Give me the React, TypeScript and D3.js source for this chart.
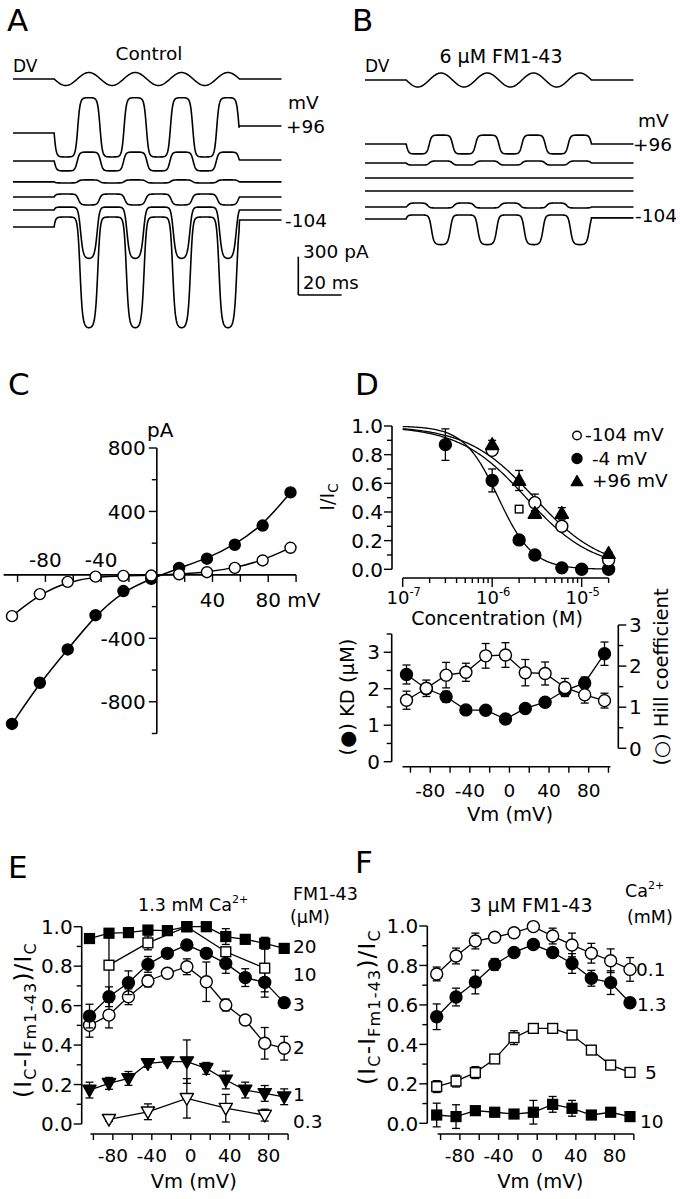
import React from 'react';
import * as d3 from 'd3';

const FONT = "'DejaVu Sans', 'Liberation Sans', Arial, sans-serif";

// ===== Panels A & B: stimulus (DV) and current traces =====
const traceDurMs = 124;
const stimOnsetMs = 19;
const stimPeriodMs = 21.4;
const stimCycles = 4;
// levels in pA: display baseline, and closed / open / post-stimulus level relative to baseline
const ctrlBase = [-337, -556, -720, -838, -940, -1073];
const ctrlClosed = [-188, -78, -8, 23, 23, 78];
const ctrlOpen = [278, 70, 16, -63, -392, -806];
const ctrlPost = [55, 8, 0, 0, 0, 55];
const fmBase = [-423, -572, -689, -791, -916, -1010];
const fmClosed = [-78, -16, 0, 0, 31, 31];
const fmOpen = [70, 16, 0, 0, -8, -204];
const fmPost = [0, 0, 0, 0, 0, 8];
const scaleBarPA = 300;
const scaleBarMs = 20;

// ===== Panel C: I-V =====
const ivVm = [-104, -84, -64, -44, -24, -4, 16, 36, 56, 76, 96];
const ivControl = [-940, -680, -470, -254, -102, -25, 44, 102, 190, 311, 520];
const ivFM = [-260, -121, -44, -11, -6, -4, 4, 17, 44, 91, 171];
const ivXTicks = [-100, -80, -60, -40, -20, 20, 40, 60, 80, 100];
const ivXLabelsAbove = [-80, -40];
const ivXLabelsBelow = [40];
const ivYMajor = [800, 400, 0, -400, -800];
const ivYMinor = [600, 200, -200, -600, -1000];

// ===== Panel D top: dose-response =====
const doseConc = [3e-7, 1e-6, 2e-6, 3e-6, 6e-6, 1e-5, 2e-5];
const doseM104 = [NaN, 0.83, NaN, 0.465, 0.30, NaN, 0.065];
const doseM104Err = [0, 0.03, 0, 0.06, 0.02, 0, 0.02];
const doseM4 = [0.87, 0.62, 0.205, 0.10, 0.01, 0.0, 0.0];
const doseM4Err = [0.11, 0.08, 0.025, 0.01, 0.01, 0, 0];
const doseP96 = [NaN, 0.87, 0.62, 0.39, 0.39, NaN, 0.11];
const doseP96Err = [0, 0.03, 0.07, 0.02, 0.04, 0, 0.01];
const doseExtraConc = [2e-6];
const doseExtraVal = [0.42];
const fitLabels = ['-104 mV', ' -4 mV', '+96 mV'];
const fitKD = [2.39e-6, 1.17e-6, 2.96e-6];
const fitHill = [1.17, 2.27, 1.16];
const doseYMajor = [0, 0.2, 0.4, 0.6, 0.8, 1.0];
const doseYMinor = [0.1, 0.3, 0.5, 0.7, 0.9];
const doseDecades = [-7, -6, -5];

// ===== Panel D bottom: KD and Hill vs Vm =====
const kdVal = [2.39, 2.0, 1.78, 1.42, 1.41, 1.17, 1.46, 1.63, 1.95, 2.16, 2.96];
const kdErr = [0.26, 0.12, 0.15, 0.05, 0.05, 0.05, 0.08, 0.08, 0.1, 0.16, 0.32];
const hillVal = [1.17, 1.46, 1.78, 1.85, 2.25, 2.27, 1.84, 1.82, 1.48, 1.30, 1.16];
const hillErr = [0.22, 0.2, 0.31, 0.22, 0.3, 0.3, 0.32, 0.28, 0.22, 0.2, 0.18];
const vmTicks = [-100, -80, -60, -40, -20, 0, 20, 40, 60, 80, 100];
const vmLabels = [-80, -40, 0, 40, 80];

// ===== Panel E: FM1-43 concentrations (µM) =====
const eLabels = ['20', '10', '3', '2', '1', '0.3'];
const e20 = [0.94, 0.967, 0.97, 0.983, 0.98, 1.0, 1.0, 0.95, 0.936, 0.916, 0.89];
const e20Err = [0, 0, 0, 0.01, 0, 0, 0, 0.04, 0.01, 0.03, 0.01];
const e10 = [NaN, 0.805, NaN, 0.918, NaN, 1.0, NaN, 0.873, NaN, 0.79, NaN];
const e10Err = [0, 0.17, 0, 0.035, 0, 0, 0, 0.02, 0, 0.12, 0];
const e3 = [0.547, 0.645, 0.716, 0.809, 0.865, 0.907, 0.865, 0.814, 0.742, 0.718, 0.615];
const e3Err = [0.06, 0.05, 0.06, 0.04, 0.01, 0.01, 0.01, 0.05, 0.045, 0.075, 0.02];
const e2 = [0.50, 0.552, 0.645, 0.725, 0.764, 0.797, 0.721, 0.603, 0.527, 0.409, 0.384];
const e2Err = [0.06, 0.065, 0.04, 0.03, 0.01, 0.04, 0.1, 0.03, 0.015, 0.08, 0.06];
const e1 = [0.172, 0.206, 0.231, 0.307, 0.316, 0.316, 0.282, 0.223, 0.172, 0.155, 0.138];
const e1Err = [0.04, 0.03, 0.035, 0.02, 0.01, 0.11, 0.03, 0.045, 0.04, 0.04, 0.04];
const e03 = [NaN, 0.024, NaN, 0.062, NaN, 0.13, NaN, 0.08, NaN, 0.045, NaN];
const e03Err = [0, 0.01, 0, 0.04, 0, 0.1, 0, 0.07, 0, 0.03, 0];

// ===== Panel F: Ca2+ concentrations (mM) =====
const fLabels = ['0.1', '1.3', '5', '10'];
const f01 = [0.757, 0.848, 0.924, 0.943, 0.966, 0.997, 0.949, 0.904, 0.862, 0.824, 0.78];
const f01Err = [0.035, 0.04, 0.04, 0.015, 0.02, 0, 0.04, 0.06, 0.05, 0.06, 0.06];
const f13 = [0.54, 0.64, 0.716, 0.805, 0.866, 0.906, 0.866, 0.81, 0.735, 0.713, 0.611];
const f13Err = [0.065, 0.045, 0.06, 0.03, 0.01, 0.01, 0.01, 0.05, 0.04, 0.06, 0.015];
const f5 = [0.186, 0.214, 0.257, 0.326, 0.434, 0.481, 0.481, 0.447, 0.371, 0.295, 0.258];
const f5Err = [0.03, 0.03, 0.03, 0.01, 0.035, 0.01, 0.02, 0.01, 0.01, 0.01, 0.01];
const f10 = [0.042, 0.034, 0.064, 0.056, 0.047, 0.056, 0.096, 0.076, 0.042, 0.056, 0.034];
const f10Err = [0.06, 0.06, 0.02, 0.01, 0.01, 0.06, 0.04, 0.04, 0.01, 0.01, 0.01];
const ratioYMajor = [0, 0.2, 0.4, 0.6, 0.8, 1.0];
const ratioYMinor = [0.1, 0.3, 0.5, 0.7, 0.9];

// ---------------- helpers ----------------
const stimEnd = stimOnsetMs + stimCycles * stimPeriodMs;
function stim(t: number) {
  if (t < stimOnsetMs || t > stimEnd) return 0;
  return -Math.sin((2 * Math.PI * (t - stimOnsetMs)) / stimPeriodMs);
}

function tracePath(tS: any, yS: any, base: number, closed: number, open: number, post: number, k = 0.16) {
  let p0 = open - closed !== 0 ? -closed / (open - closed) : 0.5;
  p0 = Math.min(0.95, Math.max(0.05, p0));
  const s0 = k * Math.log(1 / p0 - 1);
  const pts: [number, number][] = [];
  for (let t = 0; t <= traceDurMs + 1e-6; t += 0.2) {
    let v: number;
    if (t < stimOnsetMs) v = base;
    else if (t > stimEnd) v = base + post;
    else {
      const s = stim(t);
      const P = 1 / (1 + Math.exp(-(s - s0) / k));
      v = base + closed + (open - closed) * P;
    }
    pts.push([tS(t), yS(v)]);
  }
  return d3.line()(pts) as string;
}

function dvPath(tS: any, y0: number, amp: number) {
  const pts: [number, number][] = [];
  for (let t = 0; t <= traceDurMs + 1e-6; t += 0.2) pts.push([tS(t), y0 - amp * stim(t)]);
  return d3.line()(pts) as string;
}

const defaultR: any = { circle: 6, square: 5.6, triUp: 6, triDown: 6 };

function Mark({ shape, x, y, filled, r }: any) {
  const rr = r ?? defaultR[shape];
  const fill = filled ? '#000' : '#fff';
  const sw = 1.4;
  if (shape === 'circle') return <circle cx={x} cy={y} r={rr} fill={fill} stroke="#000" strokeWidth={sw} />;
  if (shape === 'square')
    return <rect x={x - rr + 0.7} y={y - rr + 0.7} width={2 * rr - 1.4} height={2 * rr - 1.4} fill={fill} stroke="#000" strokeWidth={sw} />;
  if (shape === 'triUp')
    return <path d={`M${x},${y - rr * 1.15}L${x + rr * 1.1},${y + rr * 0.8}L${x - rr * 1.1},${y + rr * 0.8}Z`} fill={fill} stroke="#000" strokeWidth={sw} strokeLinejoin="round" />;
  return <path d={`M${x},${y + rr * 1.15}L${x + rr * 1.1},${y - rr * 0.8}L${x - rr * 1.1},${y - rr * 0.8}Z`} fill={fill} stroke="#000" strokeWidth={sw} strokeLinejoin="round" />;
}

function ErrBar({ x, y1, y2, cap = 4 }: any) {
  return (
    <g stroke="#000" strokeWidth={1.3}>
      <line x1={x} x2={x} y1={y1} y2={y2} />
      <line x1={x - cap} x2={x + cap} y1={y1} y2={y1} />
      <line x1={x - cap} x2={x + cap} y1={y2} y2={y2} />
    </g>
  );
}

function Series({ xs, vals, errs, xS, yS, shape, filled, line = true }: any) {
  const pts = xs.map((x: number, i: number) => ({ x, v: vals[i], e: errs ? errs[i] : 0 })).filter((d: any) => !isNaN(d.v));
  const path = d3.line<any>().x((d) => xS(d.x)).y((d) => yS(d.v))(pts) as string;
  return (
    <g>
      {line && <path d={path} fill="none" stroke="#000" strokeWidth={1.3} />}
      {pts.filter((d: any) => d.e > 0).map((d: any, i: number) => (
        <ErrBar key={'e' + i} x={xS(d.x)} y1={yS(d.v + d.e)} y2={yS(d.v - d.e)} />
      ))}
      {pts.map((d: any, i: number) => (
        <Mark key={'m' + i} shape={shape} x={xS(d.x)} y={yS(d.v)} filled={filled} />
      ))}
    </g>
  );
}

const fmt1 = (v: number) => v.toFixed(1);
const YT = 20; // y tick label size
const XT = 18.5; // x tick label size

// ---------------- component ----------------
export default function App() {
  // A & B
  const tA = d3.scaleLinear().domain([0, traceDurMs]).range([13, 281.5]);
  const tB = d3.scaleLinear().domain([0, traceDurMs]).range([365, 633.5]);
  const yTr = d3.scaleLinear().domain([0, -scaleBarPA]).range([90, 128.3]);

  // C
  const xC = d3.scaleLinear().domain([-104, 96]).range([12, 290.5]);
  const yC = d3.scaleLinear().domain([800, -1000]).range([448, 733.5]);
  const ivLine = d3.line<number>().x((_, i) => xC(ivVm[i])).y((d) => yC(d)).curve(d3.curveBasis);

  // D top
  const xDt = d3.scaleLog().domain([1e-7, 2e-5]).range([402.7, 608.6]);
  const yDt = d3.scaleLinear().domain([0, 1]).range([569.3, 426]);
  const fitConc = d3.range(0, 201).map((i) => Math.pow(10, -7 + (i / 200) * Math.log10(200)));
  const minorConc: number[] = [];
  [1e-7, 1e-6].forEach((d) => { for (let m = 2; m <= 9; m++) minorConc.push(m * d); });
  minorConc.push(2e-5);

  // D bottom
  const xDb = d3.scaleLinear().domain([-104, 96]).range([406.5, 604.5]);
  const yKD = d3.scaleLinear().domain([0, 3.5]).range([761.7, 634]);
  const yHill = d3.scaleLinear().domain([0, 3]).range([748.3, 625]);

  // E, F
  const xE = d3.scaleLinear().domain([-104, 96]).range([89.5, 284.2]);
  const yE = d3.scaleLinear().domain([0, 1]).range([1124, 926.7]);
  const xF = d3.scaleLinear().domain([-104, 96]).range([436.7, 630]);
  const yF = d3.scaleLinear().domain([0, 1]).range([1123.3, 926]);

  const ax = { stroke: '#000', strokeWidth: 1.6 };
  const tk = { stroke: '#000', strokeWidth: 1.4 };

  const ratioAxes = (xS: any, yS: any, yAxisX: number, xAxisY: number) => (
    <g>
      <line x1={yAxisX} x2={yAxisX} y1={yS(0)} y2={yS(1)} {...ax} />
      {ratioYMajor.map((v) => <line key={'ma' + v} x1={yAxisX - 8} x2={yAxisX} y1={yS(v)} y2={yS(v)} {...tk} />)}
      {ratioYMinor.map((v) => <line key={'mi' + v} x1={yAxisX - 5} x2={yAxisX} y1={yS(v)} y2={yS(v)} {...tk} />)}
      {ratioYMajor.map((v) => (
        <text key={'l' + v} x={yAxisX - 9} y={yS(v)} dy="0.36em" textAnchor="end" fontSize={YT}>{fmt1(v)}</text>
      ))}
      <line x1={xS(-103)} x2={xS(100)} y1={xAxisY} y2={xAxisY} {...ax} />
      {vmTicks.map((v) => <line key={'xt' + v} x1={xS(v)} x2={xS(v)} y1={xAxisY} y2={xAxisY + 6} {...tk} />)}
      {vmLabels.map((v) => (
        <text key={'xl' + v} x={xS(v)} y={xAxisY + 28} textAnchor="middle" fontSize={XT}>{v}</text>
      ))}
      <text x={xS(0) + 3} y={xAxisY + 54} textAnchor="middle" fontSize={19.5}>Vm (mV)</text>
    </g>
  );

  const ratioYLabel = (x: number, y: number) => (
    <text transform={`translate(${x},${y}) rotate(-90)`} textAnchor="middle" fontSize={23} letterSpacing={1.2}>
      (I<tspan fontSize={16} dy={5}>C</tspan><tspan dy={-5}>-I</tspan><tspan fontSize={16} dy={5}>Fm1-43</tspan><tspan dy={-5}>)/I</tspan><tspan fontSize={16} dy={5}>C</tspan>
    </text>
  );

  return (
    <svg width={683} height={1199} style={{ position: 'absolute', left: 0, top: 0, display: 'block' }} fontFamily={FONT} fill="#000">
      <rect width={683} height={1199} fill="#fff" />

      {/* ===== Panel A ===== */}
      <text x={7} y={31} fontSize={31}>A</text>
      <text x={13} y={72} fontSize={17}>DV</text>
      <text x={149} y={60} fontSize={18.5} textAnchor="middle">Control</text>
      <path d={dvPath(tA, 79, 6.5)} fill="none" stroke="#000" strokeWidth={1.5} />
      {ctrlBase.map((b, i) => (
        <path key={'ta' + i} d={tracePath(tA, yTr, b, ctrlClosed[i], ctrlOpen[i], ctrlPost[i])} fill="none" stroke="#000" strokeWidth={1.6} />
      ))}
      <text x={288} y={109} fontSize={18.5}>mV</text>
      <text x={286} y={133} fontSize={18.5}>+96</text>
      <text x={285} y={227} fontSize={18.5}>-104</text>
      {/* scale bar */}
      <line x1={298.3} x2={298.3} y1={295 - (yTr(-scaleBarPA) - yTr(0))} y2={295} stroke="#000" strokeWidth={1.6} />
      <line x1={298.3} x2={298.3 + (tA(scaleBarMs) - tA(0))} y1={295} y2={295} stroke="#000" strokeWidth={1.6} />
      <text x={303} y={258} fontSize={18.5}>{scaleBarPA} pA</text>
      <text x={303} y={289} fontSize={18}>{scaleBarMs} ms</text>

      {/* ===== Panel B ===== */}
      <text x={352} y={31} fontSize={31}>B</text>
      <text x={365} y={72} fontSize={17}>DV</text>
      <text x={501} y={63} fontSize={19}>
        <tspan textAnchor="middle">6 μM FM1-43</tspan>
      </text>
      <path d={dvPath(tB, 80, 7)} fill="none" stroke="#000" strokeWidth={1.5} />
      {fmBase.map((b, i) => (
        <path key={'tb' + i} d={tracePath(tB, yTr, b, fmClosed[i], fmOpen[i], fmPost[i])} fill="none" stroke="#000" strokeWidth={1.6} />
      ))}
      <text x={638} y={127} fontSize={18.5}>mV</text>
      <text x={633} y={151} fontSize={18.5}>+96</text>
      <text x={635} y={222} fontSize={18.5}>-104</text>

      {/* ===== Panel C ===== */}
      <text x={8} y={395} fontSize={31}>C</text>
      <line x1={xC(-110)} x2={xC(100)} y1={yC(0)} y2={yC(0)} {...ax} />
      {ivXTicks.map((v) => <line key={'cx' + v} x1={xC(v)} x2={xC(v)} y1={yC(0)} y2={yC(0) + 7} {...tk} />)}
      <line x1={xC(0)} x2={xC(0)} y1={yC(800)} y2={yC(-1000)} {...ax} />
      {ivYMajor.map((v) => <line key={'cy' + v} x1={xC(0) - 8} x2={xC(0)} y1={yC(v)} y2={yC(v)} {...tk} />)}
      {ivYMinor.map((v) => <line key={'cym' + v} x1={xC(0) - 5} x2={xC(0)} y1={yC(v)} y2={yC(v)} {...tk} />)}
      {ivYMajor.filter((v) => v !== 0).map((v) => (
        <text key={'cyl' + v} x={xC(0) - 11} y={yC(v)} dy="0.36em" textAnchor="end" fontSize={20}>{v}</text>
      ))}
      {ivXLabelsAbove.map((v) => (
        <text key={'cxa' + v} x={xC(v)} y={yC(0) - 8} textAnchor="middle" fontSize={20}>{v}</text>
      ))}
      {ivXLabelsBelow.map((v) => (
        <text key={'cxb' + v} x={xC(v)} y={yC(0) + 32} textAnchor="middle" fontSize={20}>{v}</text>
      ))}
      <text x={xC(80) - 12.7} y={yC(0) + 32} fontSize={20}>80 mV</text>
      <text x={147} y={437} fontSize={20}>pA</text>
      <path d={ivLine(ivControl) as string} fill="none" stroke="#000" strokeWidth={1.5} />
      <path d={ivLine(ivFM) as string} fill="none" stroke="#000" strokeWidth={1.5} />
      {ivVm.map((v, i) => <Mark key={'cf' + i} shape="circle" x={xC(v)} y={yC(ivControl[i])} filled r={5.5} />)}
      {ivVm.map((v, i) => <Mark key={'co' + i} shape="circle" x={xC(v)} y={yC(ivFM[i])} filled={false} r={5.5} />)}

      {/* ===== Panel D top ===== */}
      <text x={355} y={395} fontSize={31}>D</text>
      <line x1={392} x2={392} y1={yDt(0)} y2={yDt(1)} {...ax} />
      {doseYMajor.map((v) => <line key={'dy' + v} x1={384} x2={392} y1={yDt(v)} y2={yDt(v)} {...tk} />)}
      {doseYMinor.map((v) => <line key={'dym' + v} x1={387} x2={392} y1={yDt(v)} y2={yDt(v)} {...tk} />)}
      {doseYMajor.map((v) => (
        <text key={'dyl' + v} x={383} y={yDt(v)} dy="0.36em" textAnchor="end" fontSize={YT}>{fmt1(v)}</text>
      ))}
      <line x1={xDt(1e-7)} x2={xDt(2e-5)} y1={578} y2={578} {...ax} />
      {doseDecades.map((d) => <line key={'dx' + d} x1={xDt(Math.pow(10, d))} x2={xDt(Math.pow(10, d))} y1={578} y2={587} {...tk} />)}
      {minorConc.map((c, i) => <line key={'dxm' + i} x1={xDt(c)} x2={xDt(c)} y1={578} y2={583} {...tk} />)}
      {doseDecades.map((d) => (
        <text key={'dxl' + d} x={xDt(Math.pow(10, d)) + 1} y={604} textAnchor="middle" fontSize={18}>
          10<tspan fontSize={11.5} dy={-8}>{d}</tspan>
        </text>
      ))}
      <text x={497} y={625} textAnchor="middle" fontSize={19}>Concentration (M)</text>
      <text transform="translate(334,497) rotate(-90)" textAnchor="middle" fontSize={19.5}>
        I/I<tspan fontSize={13.5} dy={4}>C</tspan>
      </text>
      {fitKD.map((kd, j) => {
        const p = d3.line<number>().x((c) => xDt(c)).y((c) => yDt(1 / (1 + Math.pow(c / kd, fitHill[j]))))(fitConc) as string;
        return <path key={'fit' + j} d={p} fill="none" stroke="#000" strokeWidth={1.3} />;
      })}
      <Series xs={doseConc} vals={doseM4} errs={doseM4Err} xS={xDt} yS={yDt} shape="circle" filled line={false} />
      <Series xs={doseConc} vals={doseM104} errs={doseM104Err} xS={xDt} yS={yDt} shape="circle" filled={false} line={false} />
      <Series xs={doseConc} vals={doseP96} errs={doseP96Err} xS={xDt} yS={yDt} shape="triUp" filled line={false} />
      {doseExtraConc.map((c, i) => <Mark key={'dx2' + i} shape="square" x={xDt(c)} y={yDt(doseExtraVal[i])} filled={false} r={4.5} />)}
      {/* legend */}
      <Mark shape="circle" x={577} y={435.5} filled={false} r={4.3} />
      <Mark shape="circle" x={577} y={458.5} filled r={5} />
      <Mark shape="triUp" x={577} y={481.5} filled r={5.2} />
      <text x={585} y={441} fontSize={18.5}>{fitLabels[0]}</text>
      <text x={586} y={465} fontSize={18.5} style={{ whiteSpace: 'pre' }}>{fitLabels[1]}</text>
      <text x={592} y={487} fontSize={18.5}>{fitLabels[2]}</text>

      {/* ===== Panel D bottom ===== */}
      <line x1={391.7} x2={391.7} y1={yKD(0)} y2={yKD(3.5)} {...ax} />
      {[0, 1, 2, 3].map((v) => <line key={'ky' + v} x1={383.7} x2={391.7} y1={yKD(v)} y2={yKD(v)} {...tk} />)}
      {[0.5, 1.5, 2.5, 3.5].map((v) => <line key={'kym' + v} x1={386.7} x2={391.7} y1={yKD(v)} y2={yKD(v)} {...tk} />)}
      {[0, 1, 2, 3].map((v) => (
        <text key={'kyl' + v} x={380} y={yKD(v)} dy="0.36em" textAnchor="end" fontSize={YT}>{v}</text>
      ))}
      <line x1={618.3} x2={618.3} y1={yHill(0)} y2={yHill(3)} {...ax} />
      {[0, 1, 2, 3].map((v) => <line key={'hy' + v} x1={618.3} x2={626.3} y1={yHill(v)} y2={yHill(v)} {...tk} />)}
      {[0.5, 1.5, 2.5].map((v) => <line key={'hym' + v} x1={618.3} x2={623.3} y1={yHill(v)} y2={yHill(v)} {...tk} />)}
      {[0, 1, 2, 3].map((v) => (
        <text key={'hyl' + v} x={629} y={yHill(v)} dy="0.36em" fontSize={YT}>{v}</text>
      ))}
      <line x1={xDb(-108)} x2={xDb(102)} y1={766.7} y2={766.7} {...ax} />
      {vmTicks.map((v) => <line key={'kx' + v} x1={xDb(v)} x2={xDb(v)} y1={766.7} y2={772.7} {...tk} />)}
      {vmLabels.map((v) => (
        <text key={'kxl' + v} x={xDb(v)} y={797} textAnchor="middle" fontSize={XT}>{v}</text>
      ))}
      <text x={510} y={821} textAnchor="middle" fontSize={19.5}>Vm (mV)</text>
      <text transform="translate(354,697) rotate(-90)" textAnchor="middle" fontSize={19.5}>(●) KD (μM)</text>
      <text transform="translate(668,677) rotate(-90)" textAnchor="middle" fontSize={19.5}>(○) Hill coefficient</text>
      <Series xs={ivVm} vals={kdVal} errs={kdErr} xS={xDb} yS={yKD} shape="circle" filled />
      <Series xs={ivVm} vals={hillVal} errs={hillErr} xS={xDb} yS={yHill} shape="circle" filled={false} />

      {/* ===== Panel E ===== */}
      <text x={8} y={878} fontSize={31}>E</text>
      <text x={138} y={911} fontSize={17.5}>
        1.3 mM Ca<tspan fontSize={11} dy={-8}>2+</tspan>
      </text>
      <text x={293} y={900} fontSize={17.5}>FM1-43</text>
      <text x={290} y={923} fontSize={17.5}>(μM)</text>
      {ratioAxes(xE, yE, 81.7, 1134)}
      {ratioYLabel(31, 1020)}
      <Series xs={ivVm} vals={e03} errs={e03Err} xS={xE} yS={yE} shape="triDown" filled={false} />
      <Series xs={ivVm} vals={e1} errs={e1Err} xS={xE} yS={yE} shape="triDown" filled />
      <Series xs={ivVm} vals={e2} errs={e2Err} xS={xE} yS={yE} shape="circle" filled={false} />
      <Series xs={ivVm} vals={e3} errs={e3Err} xS={xE} yS={yE} shape="circle" filled />
      <Series xs={ivVm} vals={e10} errs={e10Err} xS={xE} yS={yE} shape="square" filled={false} />
      <Series xs={ivVm} vals={e20} errs={e20Err} xS={xE} yS={yE} shape="square" filled />
      {[953, 981, 1011, 1054, 1101, 1128].map((y, i) => (
        <text key={'el' + i} x={293} y={y} fontSize={18.5}>{eLabels[i]}</text>
      ))}

      {/* ===== Panel F ===== */}
      <text x={355} y={873} fontSize={31}>F</text>
      <text x={531} y={912} textAnchor="middle" fontSize={19}>3 μM FM1-43</text>
      <text x={625} y={897} fontSize={17.5}>
        Ca<tspan fontSize={11} dy={-8}>2+</tspan>
      </text>
      <text x={627} y={923} fontSize={17.5}>(mM)</text>
      {ratioAxes(xF, yF, 427.3, 1134)}
      {ratioYLabel(375, 1007)}
      <Series xs={ivVm} vals={f10} errs={f10Err} xS={xF} yS={yF} shape="square" filled />
      <Series xs={ivVm} vals={f5} errs={f5Err} xS={xF} yS={yF} shape="square" filled={false} />
      <Series xs={ivVm} vals={f13} errs={f13Err} xS={xF} yS={yF} shape="circle" filled />
      <Series xs={ivVm} vals={f01} errs={f01Err} xS={xF} yS={yF} shape="circle" filled={false} />
      {[[636, 976], [637, 1011], [645, 1079], [640, 1128]].map(([x, y], i) => (
        <text key={'fl' + i} x={x} y={y} fontSize={18.5}>{fLabels[i]}</text>
      ))}
    </svg>
  );
}
